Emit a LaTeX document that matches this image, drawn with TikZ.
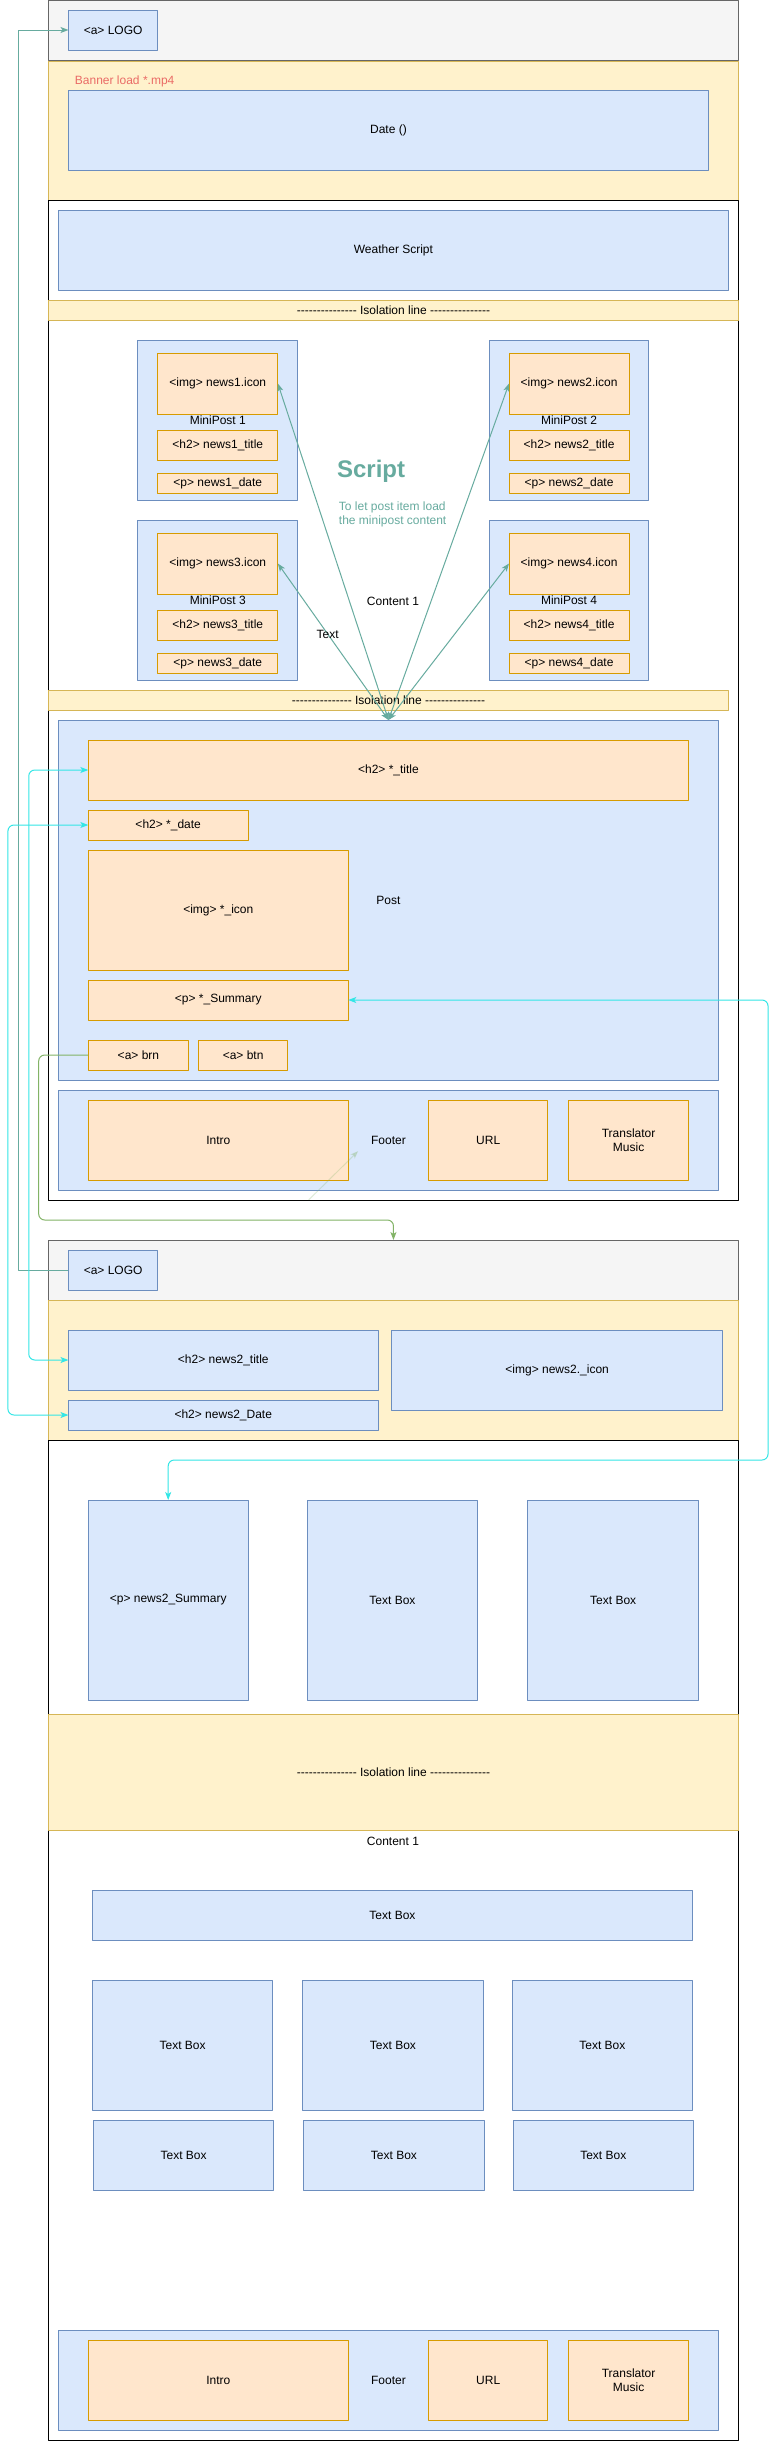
\documentclass[tikz,border=0pt]{standalone}
\usepackage{fontspec}
\setmainfont{Liberation Sans}
\usetikzlibrary{arrows.meta}
\definecolor{bluefill}{HTML}{DAE8FC}
\definecolor{blueline}{HTML}{6C8EBF}
\definecolor{orangefill}{HTML}{FFE6CC}
\definecolor{orangeline}{HTML}{D79B00}
\definecolor{yellowfill}{HTML}{FFF2CC}
\definecolor{yellowline}{HTML}{D6B656}
\definecolor{grayfill}{HTML}{F5F5F5}
\definecolor{grayline}{HTML}{666666}
\definecolor{tealc}{HTML}{67AB9F}
\definecolor{greenc}{HTML}{82B366}
\definecolor{cyanc}{HTML}{33E6E6}
\definecolor{redc}{HTML}{EA6B66}
\newcommand\isodash{\hbox{-}\hbox{-}\hbox{-}\hbox{-}\hbox{-}\hbox{-}\hbox{-}\hbox{-}\hbox{-}\hbox{-}\hbox{-}\hbox{-}\hbox{-}\hbox{-}\hbox{-}}
\newcommand\isotext{\isodash\ Isolation line \isodash}
\begin{document}
\begin{tikzpicture}[x=0.9923pt,y=-1pt,>={Stealth[length=8pt,width=6pt,inset=2pt]}, font=\fontsize{12}{14}\selectfont, line join=round,
	bx/.style={draw, line width=1pt, inner sep=0pt, outer sep=0pt, anchor=north west, align=center},
	wh/.style 2 args={minimum width=0.9923*#1pt, minimum height=#2pt},
	bluebox/.style={bx, fill=bluefill, draw=blueline},
	orangebox/.style={bx, fill=orangefill, draw=orangeline},
	yellowbox/.style={bx, fill=yellowfill, draw=yellowline},
	graybox/.style={bx, fill=grayfill, draw=grayline},
	whitebox/.style={bx, fill=white, draw=black},
	tealline/.style={draw=tealc, line width=1pt},
	greenline/.style={draw=greenc, line width=1pt, rounded corners=6pt},
	cyanline/.style={draw=cyanc, line width=1pt, rounded corners=6pt}]
	\fill[white] (0,0) rectangle (784.04,2441);
	\useasboundingbox (0,0) rectangle (784.04,2441);
	
	\node[graybox, wh={695}{60}] (hdrA) at (49,0.5) {};
	\node[bluebox, wh={90}{40}] (logoA) at (69,10) {<a> LOGO};
	\node[yellowbox, wh={695}{139}] (banner) at (49,61) {};
	\node[text=redc, anchor=west] (bannerlabel) at (72,81) {Banner load *.mp4};
	\node[bluebox, wh={645}{80}] (datebox) at (69,90) {Date ()};
	\node[whitebox, wh={695}{1000}] (wrapA) at (49,200) {};
	\node[bluebox, wh={675}{80}] (weather) at (59,210) {Weather Script};
	\node[yellowbox, wh={695}{20}] (isoA) at (49,300) {\isotext};
	
	\foreach \n/\x/\y in {1/139/340, 2/493/340, 3/139/520, 4/493/520}{
		\node[bluebox, wh={161}{160}] (mp\n) at (\x,\y) {MiniPost \n};
		\node[orangebox, wh={121}{61}] (icon\n) at (\x+20,\y+13) {<img> news\n.icon};
		\node[orangebox, wh={121}{30}] (title\n) at (\x+20,\y+90) {<h2> news\n\_title};
		\node[orangebox, wh={121}{20}] (date\n) at (\x+20,\y+133) {<p> news\n\_date};
	}
	\node[text=tealc, font=\fontsize{24}{28}\selectfont\bfseries] (script) at (374,471) {Script};
	\node[text=tealc, anchor=west, align=left] (scriptnote) at (338,514) {To let post item load\\the minipost content};
	\node (contentA) at (396,601) {Content 1};
	\node[yellowbox, wh={685}{20}] (isoB) at (49,690) {\isotext};
	
	\node[bluebox, wh={665}{360}] (post) at (59,720) {Post};
	\node[orangebox, wh={605}{60}] (ptitle) at (89,740) {<h2> *\_title};
	\node[orangebox, wh={161}{30}] (pdate) at (89,810) {<h2> *\_date};
	\node[orangebox, wh={262}{120}] (picon) at (89,850) {<img> *\_icon};
	\node[orangebox, wh={262}{40}] (psum) at (89,980) {<p> *\_Summary};
	\node[orangebox, wh={101}{30}] (brn) at (89,1040) {<a> brn};
	\node[orangebox, wh={90}{30}] (btn) at (200,1040) {<a> btn};
	
	\node[graybox, wh={695}{60}] (hdrB) at (49,1240) {};
	\node[bluebox, wh={90}{40}] (logoB) at (69,1250) {<a> LOGO};
	\node[yellowbox, wh={695}{140}] (bandB) at (49,1300) {};
	\node[bluebox, wh={312}{60}] (ntitle) at (69,1330) {<h2> news2\_title};
	\node[bluebox, wh={333}{80}] (nicon) at (395,1330) {<img> news2.\_icon};
	\node[bluebox, wh={312}{30}] (ndate) at (69,1400) {<h2> news2\_Date};
	\node[whitebox, wh={695}{1000}] (wrapB) at (49,1440) {};
	\node[bluebox, wh={161}{200}] (nsum) at (89,1500) {<p> news2\_Summary};
	\node[bluebox, wh={171}{200}] (tbA1) at (310,1500) {Text Box};
	\node[bluebox, wh={172}{200}] (tbA2) at (532,1500) {Text Box};
	\node[yellowbox, wh={695}{116}] (isoC) at (49,1714) {\isotext};
	\node (contentB) at (396,1841) {Content 1};
	\node[bluebox, wh={605}{50}] (tbwide) at (93,1890) {Text Box};
	\foreach \x [count=\i] in {93,305,516}{
		\node[bluebox, wh={182}{130}] (tbB\i) at (\x,1980) {Text Box};
		\node[bluebox, wh={182}{70}] (tbC\i) at (\x+1,2120) {Text Box};
	}
	
	\foreach \f/\y in {A/1090, B/2330}{
		\node[bluebox, wh={665}{100}] (foot\f) at (59,\y) {Footer};
		\node[orangebox, wh={262}{80}] (intro\f) at (89,\y+10) {Intro};
		\node[orangebox, wh={120}{80}] (url\f) at (432,\y+10) {URL};
		\node[orangebox, wh={121}{80}] (music\f) at (573,\y+10) {Translator\\Music};
	}
	
	\foreach \i/\side in {1/east, 2/west, 3/east, 4/west}{
		\draw[tealline,<->] (post.north) -- (icon\i.\side);
	}
	\path (post.north) -- node[pos=0.55] (textlabel) {Text} (icon3.east);
	\draw[tealline,->] (logoB.west) -- ++(-50,0) |- (logoA.west);
	\draw[greenline,->] (brn.west) -| (39,1220) -| (hdrB.north);
	\draw[cyanline,<->] (ptitle.west) -- ++(-60,0) |- (ntitle.west);
	\draw[cyanline,<->] (pdate.west) -- ++(-81,0) |- (ndate.west);
	\draw[cyanline,<->] (psum.east) -| (774,1460) -| (nsum.north);
	\coordinate (fadeA) at (311,1200);
	\coordinate (fadeB) at (361,1151);
	\draw[draw=greenc, line width=1pt, opacity=.25, ->] (fadeA) -- (fadeB);
\end{tikzpicture}
\end{document}
